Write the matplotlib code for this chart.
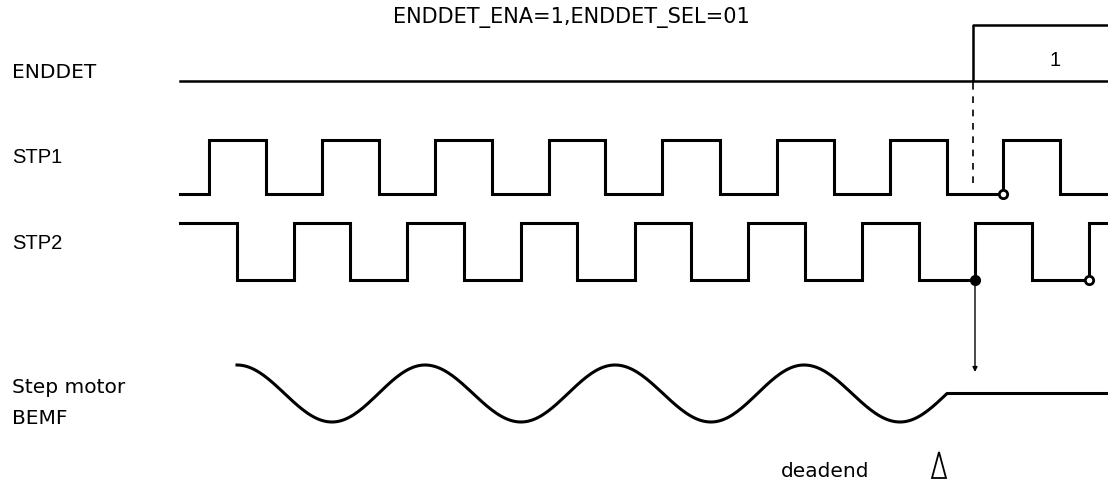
import numpy as np
import matplotlib
matplotlib.use("Agg")
import matplotlib.pyplot as plt
from matplotlib.patches import Polygon

# signal labels and the header line
labels = ["ENDDET", "STP1", "STP2"]
bemf_label = ["Step motor", "BEMF"]
title_text = "ENDDET_ENA=1,ENDDET_SEL=01"

# edge times of the two step outputs (pixel columns)
stp1_edges = [209, 266, 322, 379, 435, 492, 549, 605, 662, 720, 777, 834, 890, 947, 1003, 1060]
stp2_edges = [237, 294, 350, 407, 464, 521, 577, 635, 691, 748, 805, 862, 919, 975, 1032, 1089]
enddet_rise = 973

# BEMF extremes: peaks and troughs, then the stop point
bemf_peaks = [237, 425, 615, 804]
bemf_troughs = [332, 521, 711, 900]
bemf_stop = 947

X0, X1 = 180, 1108
W, H = 1108, 481

fig = plt.figure(figsize=(W / 100, H / 100), dpi=100)
ax = fig.add_axes([0, 0, 1, 1])
ax.set_xlim(0, W)
ax.set_ylim(H, 0)
ax.axis("off")

lw = 2.2
font = dict(family=["DejaVu Sans"], fontsize=14.5, color="black")
arial = dict(family=["Liberation Sans", "DejaVu Sans"], fontsize=14.5, color="black")


def square_wave(edges, start_level, hi, lo):
    xs = [X0]
    level = start_level
    ys = [hi if level else lo]
    for e in edges:
        xs.append(e)
        ys.append(hi if level else lo)
        level = 1 - level
        xs.append(e)
        ys.append(hi if level else lo)
    xs.append(X1)
    ys.append(hi if level else lo)
    return xs, ys


# ENDDET
ax.plot([X0, enddet_rise, enddet_rise, X1], [82, 82, 26, 26], color="black", lw=1.8)
ax.plot([enddet_rise, X1], [82, 82], color="black", lw=1.8)
ax.text(1055, 60, "1", ha="center", va="center", **arial)

# STP1 / STP2
xs, ys = square_wave(stp1_edges, 0, 141, 195)
ax.plot(xs, ys, color="black", lw=lw, solid_joinstyle="miter")
xs, ys = square_wave(stp2_edges, 1, 224, 281)
ax.plot(xs, ys, color="black", lw=lw, solid_joinstyle="miter")

# dashed marker from ENDDET down to STP1
ax.plot([enddet_rise, enddet_rise], [84, 190], color="black", lw=1.2, dashes=(4, 4))

# sampling points
ax.plot([stp1_edges[14]], [195], "o", ms=6, mfc="white", mec="black", mew=2)
ax.plot([stp2_edges[13]], [281], "o", ms=6, mfc="black", mec="black", mew=2)
ax.plot([stp2_edges[15]], [281], "o", ms=6, mfc="white", mec="black", mew=2)

# arrow down to BEMF
ax.annotate("", xy=(stp2_edges[13], 373), xytext=(stp2_edges[13], 283),
            arrowprops=dict(arrowstyle="-|>", color="black", lw=1.0,
                            mutation_scale=7, shrinkA=0, shrinkB=0))

# BEMF waveform
top, bot = 366, 423
mid = (top + bot) / 2
ext = sorted([(p, top) for p in bemf_peaks] + [(t, bot) for t in bemf_troughs])
bx, by = [], []
for (xa, ya), (xb, yb) in zip(ext[:-1], ext[1:]):
    t = np.linspace(0, np.pi, 40)
    bx.extend(xa + (xb - xa) * t / np.pi)
    by.extend(ya + (yb - ya) * (1 - np.cos(t)) / 2)
xa, ya = ext[-1]
t = np.linspace(0, np.pi / 2, 20)
bx.extend(xa + (bemf_stop - xa) * t / (np.pi / 2))
by.extend(mid + (ya - mid) * np.cos(t))
bx.append(X1)
by.append(mid)
ax.plot(bx, by, color="black", lw=lw)

# deadend marker
ax.add_patch(Polygon([[939, 453], [932, 479], [946, 479]], closed=True,
                     fill=False, ec="black", lw=1.3))
ax.text(825, 472, "deadend", ha="center", va="center", **font)

# labels
ax.text(12, 73, labels[0], ha="left", va="center", **font)
ax.text(12, 158, labels[1], ha="left", va="center", **arial)
ax.text(12, 244, labels[2], ha="left", va="center", **arial)
ax.text(12, 388, bemf_label[0], ha="left", va="center", **font)
ax.text(12, 419, bemf_label[1], ha="left", va="center", **font)
ax.text(571, 18, title_text, ha="center", va="center",
        family=["DejaVu Sans"], fontsize=15, color="black")

fig.savefig("out.png", dpi=100, facecolor="white")
